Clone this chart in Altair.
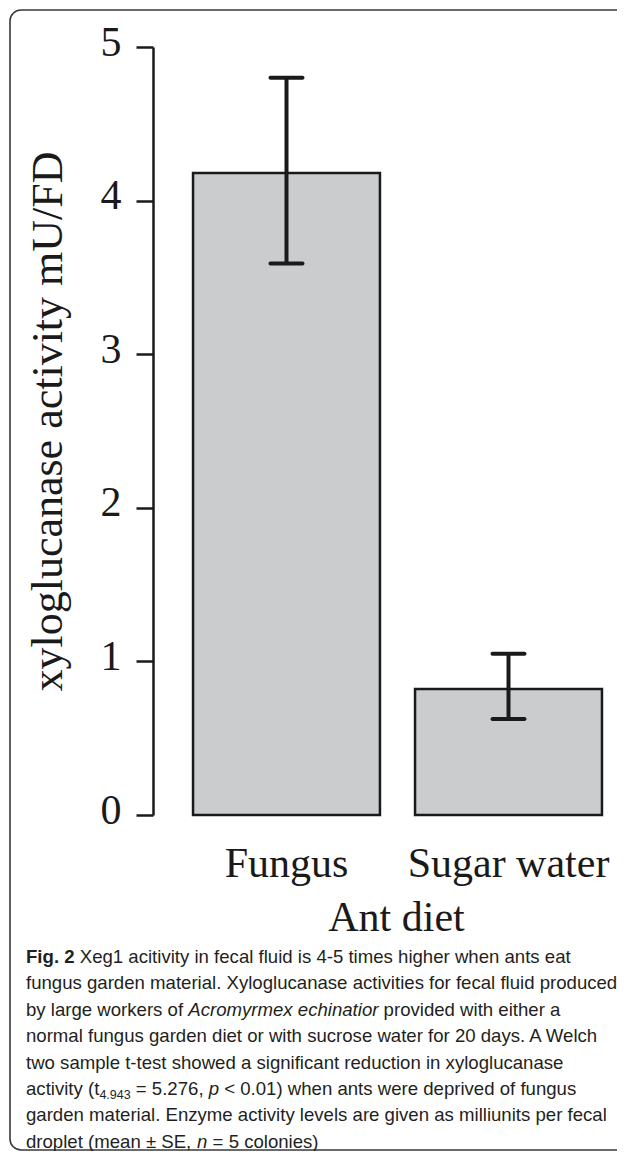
import altair as alt
import pandas as pd

# ---- data ----
diet = ["Fungus", "Sugar water"]
mean_activity = [4.18, 0.82]
se_lower = [3.59, 0.625]
se_upper = [4.80, 1.05]
y_ticks = [0, 1, 2, 3, 4, 5]

y_title = "xyloglucanase activity mU/FD"
x_title = "Ant diet"

# caption: one list of (text, style) runs per line
caption_lines = [
    [("Fig. 2", "bold"), (" Xeg1 acitivity in fecal fluid is 4-5 times higher when ants eat", "normal")],
    [("fungus garden material. Xyloglucanase activities for fecal fluid produced", "normal")],
    [("by large workers of ", "normal"), ("Acromyrmex echinatior", "italic"), (" provided with either a", "normal")],
    [("normal fungus garden diet or with sucrose water for 20 days. A Welch", "normal")],
    [("two sample t-test showed a significant reduction in xyloglucanase", "normal")],
    [("activity (t", "normal"), ("4.943", "sub"), (" = 5.276, ", "normal"), ("p", "italic"),
     (" < 0.01) when ants were deprived of fungus", "normal")],
    [("garden material. Enzyme activity levels are given as milliunits per fecal", "normal")],
    [("droplet (mean \u00b1 SE, ", "normal"), ("n", "italic"), (" = 5 colonies)", "normal")],
]

df = pd.DataFrame({"diet": diet, "mean": mean_activity,
                   "lo": se_lower, "hi": se_upper})

# ---- layout constants (page pixels) ----
PLOT_LEFT, PLOT_TOP = 153, 47
PLOT_W, PLOT_H = 460, 768
PAD = {"left": 145, "top": 39, "right": 4, "bottom": 336}
SERIF = "Liberation Serif"
SANS = "Liberation Sans"
CAP_SIZE = 18.6
SUB_SIZE = 12.5
CAP_X0 = 26
LINE0_BASE, LINE_STEP = 963, 26.4

# Arial / Liberation Sans advance widths (1/1000 em) used to lay out caption runs
_W = {" ": 278, "(": 333, ")": 333, ",": 278, "-": 333, ".": 278, "<": 584,
      "=": 584, "\u00b1": 584, "/": 278}
_W.update({d: 556 for d in "0123456789"})
_W.update(dict(zip("ABCDEFGHIJKLMNOPQRSTUVWXYZ",
                   [667, 667, 722, 722, 667, 611, 778, 722, 278, 500, 667, 556, 833,
                    722, 778, 667, 778, 722, 667, 611, 722, 667, 944, 667, 667, 611])))
_W.update(dict(zip("abcdefghijklmnopqrstuvwxyz",
                   [556, 556, 500, 556, 556, 278, 556, 556, 222, 222, 500, 222, 833,
                    556, 556, 556, 556, 333, 500, 278, 556, 500, 722, 500, 500, 500])))
_WB = dict(_W)
_WB.update({"F": 611, "i": 278, "g": 611})


def text_width(s, size, bold=False):
    table = _WB if bold else _W
    return sum(table.get(c, 556) for c in s) * size / 1000.0


xscale = alt.Scale(paddingInner=0.158, paddingOuter=0.115, align=0.784)
yscale = alt.Scale(domain=[0, 5], nice=False, zero=True)

x_enc = alt.X("diet:N", scale=xscale, sort=diet,
              axis=alt.Axis(title=x_title, domain=False, ticks=False, grid=False,
                            labelAngle=0, labelFont=SERIF, labelFontSize=42,
                            labelColor="#1a1a1a", labelPadding=61, labelLimit=600,
                            labelBaseline="alphabetic",
                            titleFont=SERIF, titleFontSize=42,
                            titleFontWeight="normal", titleColor="#1a1a1a",
                            titleX=243, titleY=115, titleAlign="center",
                            titleBaseline="alphabetic", titleLimit=600))

y_axis = alt.Axis(title=y_title, values=y_ticks, format="d", grid=False,
                  domainColor="#1a1a1a", domainWidth=2.5,
                  tickColor="#1a1a1a", tickWidth=2.5, tickSize=17,
                  labelFont=SERIF, labelFontSize=42, labelColor="#1a1a1a",
                  labelPadding=15, labelBaseline="alphabetic", labelOffset=8,
                  titleFont=SERIF, titleFontSize=44, titleFontWeight="normal",
                  titleColor="#1a1a1a", titleAngle=270, titleX=-92, titleY=374,
                  titleAlign="center", titleBaseline="alphabetic", titleLimit=1000)

bars = alt.Chart(df).mark_bar(fill="#cbccce", stroke="#1a1a1a",
                              strokeWidth=2.5).encode(
    x=x_enc,
    y=alt.Y("mean:Q", scale=yscale, axis=y_axis),
)

err = alt.Chart(df).mark_rule(color="#1a1a1a", strokeWidth=4).encode(
    x=alt.X("diet:N", sort=diet), y="lo:Q", y2="hi:Q")

cap_hi = alt.Chart(df).mark_tick(color="#1a1a1a", size=36, thickness=4,
                                 cornerRadius=2, opacity=1).encode(
    x=alt.X("diet:N", sort=diet), y="hi:Q")
cap_lo = alt.Chart(df).mark_tick(color="#1a1a1a", size=36, thickness=4,
                                 cornerRadius=2, opacity=1).encode(
    x=alt.X("diet:N", sort=diet), y="lo:Q")

one = pd.DataFrame({"k": [0]})

border = alt.Chart(one).mark_rect(fillOpacity=0, stroke="#3a3a3a",
                                  strokeWidth=1.6, cornerRadius=11).encode(
    x=alt.value(10 - PLOT_LEFT), x2=alt.value(640 - PLOT_LEFT),
    y=alt.value(10 - PLOT_TOP), y2=alt.value(1150 - PLOT_TOP))

text_layers = []
for i, runs in enumerate(caption_lines):
    base = LINE0_BASE + i * LINE_STEP
    cursor = CAP_X0
    for txt, style in runs:
        size = SUB_SIZE if style == "sub" else CAP_SIZE
        bold = style == "bold"
        lead = len(txt) - len(txt.lstrip(" "))
        x = cursor + text_width(" " * lead, size, bold)
        cursor += text_width(txt, size, bold)
        kw = dict(font=SANS, fontSize=size, color="#231f20",
                  align="left", baseline="alphabetic")
        y = base
        if bold:
            kw["fontWeight"] = "bold"
        elif style == "italic":
            kw["fontStyle"] = "italic"
        elif style == "sub":
            y = base + 4
        text_layers.append(
            alt.Chart(one).mark_text(**kw).encode(
                x=alt.value(x - PLOT_LEFT), y=alt.value(y - PLOT_TOP),
                text=alt.value(txt.strip(" "))))

chart = alt.layer(border, bars, err, cap_hi, cap_lo, *text_layers).properties(
    width=PLOT_W, height=PLOT_H,
    autosize=alt.AutoSizeParams(type="none"),
    padding=PAD,
).configure(
    background="white",
    view=alt.ViewConfig(stroke="transparent"),
)

chart.save("out.html", embed_options={"renderer": "svg", "actions": False})
